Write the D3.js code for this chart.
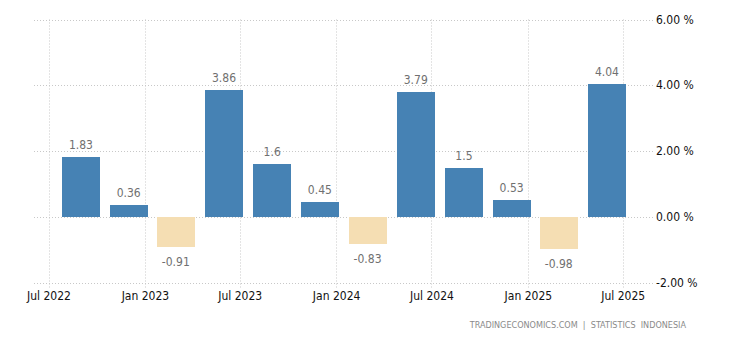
<!DOCTYPE html>
<html>
<head>
<meta charset="utf-8">
<script src="https://cdn.jsdelivr.net/npm/d3@7"></script>
<style>
  html, body { margin: 0; padding: 0; background: #fff; }
  svg { display: block; }
</style>
</head>
<body>
<svg id="chart" width="730" height="340"></svg>
<script>
// ---- data ----
const quarters = ["2022-Q3","2022-Q4","2023-Q1","2023-Q2","2023-Q3","2023-Q4","2024-Q1","2024-Q2","2024-Q3","2024-Q4","2025-Q1","2025-Q2"];
const barDates = ["2022-09-01","2022-12-01","2023-03-01","2023-06-01","2023-09-01","2023-12-01","2024-03-01","2024-06-01","2024-09-01","2024-12-01","2025-03-01","2025-06-01"];
const values = [1.83, 0.36, -0.91, 3.86, 1.6, 0.45, -0.83, 3.79, 1.5, 0.53, -0.98, 4.04];
const valueLabels = ["1.83","0.36","-0.91","3.86","1.6","0.45","-0.83","3.79","1.5","0.53","-0.98","4.04"];
const xTickDates = ["2022-07-01","2023-01-01","2023-07-01","2024-01-01","2024-07-01","2025-01-01","2025-07-01"];
const xTickLabels = ["Jul 2022","Jan 2023","Jul 2023","Jan 2024","Jul 2024","Jan 2025","Jul 2025"];
const yTicks = [-2, 0, 2, 4, 6];
const yTickLabels = ["-2.00 %","0.00 %","2.00 %","4.00 %","6.00 %"];
const sourceText = "TRADINGECONOMICS.COM  |  STATISTICS  INDONESIA";

// ---- layout ----
const FONT = "'DejaVu Sans Condensed', Tahoma, 'DejaVu Sans', sans-serif";
const parse = d3.utcParse("%Y-%m-%d");
const svg = d3.select("#chart");
const x = d3.scaleUtc()
  .domain([parse("2022-07-01"), parse("2025-07-01")])
  .range([48.5, 622.7]);
const y = d3.scaleLinear().domain([-2, 6]).range([283, 19.5]);
const gridLeft = 34, gridRight = 653;
const barW = 38;

const grid = svg.append("g");
// horizontal grid
grid.selectAll("line.h").data(yTicks).join("line")
  .attr("x1", gridLeft).attr("x2", gridRight)
  .attr("y1", d => Math.round(y(d)) + 0.5).attr("y2", d => Math.round(y(d)) + 0.5)
  .attr("stroke", "#c8c8c8").attr("stroke-width", 1).attr("stroke-dasharray", "1,2");
// vertical grid
grid.selectAll("line.v").data(xTickDates).join("line")
  .attr("x1", d => Math.round(x(parse(d))) + 0.5).attr("x2", d => Math.round(x(parse(d))) + 0.5)
  .attr("y1", 19.5).attr("y2", 288)
  .attr("stroke", "#c8c8c8").attr("stroke-width", 1).attr("stroke-dasharray", "1,2");

// bars
svg.append("g").selectAll("rect").data(values).join("rect")
  .attr("x", (d, i) => Math.round(x(parse(barDates[i])) - barW / 2))
  .attr("width", barW)
  .attr("y", d => Math.round(y(Math.max(0, d))))
  .attr("height", d => Math.round(Math.abs(y(d) - y(0))))
  .attr("fill", d => d >= 0 ? "#4682b4" : "#f5deb3");

// value labels
svg.append("g").selectAll("text").data(values).join("text")
  .attr("x", (d, i) => x(parse(barDates[i])))
  .attr("y", d => d >= 0 ? y(d) - 8 : y(d) + 19)
  .attr("text-anchor", "middle")
  .attr("font-family", FONT)
  .attr("font-size", 12)
  .attr("fill", "#707070")
  .text((d, i) => valueLabels[i]);

// y axis labels
svg.append("g").selectAll("text").data(yTicks).join("text")
  .attr("x", 656)
  .attr("y", d => y(d) + 4)
  .attr("font-family", FONT)
  .attr("font-size", 12)
  .attr("fill", "#111")
  .text((d, i) => yTickLabels[i]);

// x axis labels
svg.append("g").selectAll("text").data(xTickDates).join("text")
  .attr("x", d => x(parse(d)) + 0.5)
  .attr("y", 300)
  .attr("text-anchor", "middle")
  .attr("font-family", FONT)
  .attr("font-size", 12)
  .attr("fill", "#111")
  .text((d, i) => xTickLabels[i]);

// source
svg.append("text")
  .attr("x", 686).attr("y", 328)
  .attr("text-anchor", "end")
  .attr("font-family", FONT)
  .attr("font-size", 9)
  .attr("fill", "#8a8a8a")
  .style("white-space", "pre")
  .text(sourceText);
</script>
</body>
</html>
